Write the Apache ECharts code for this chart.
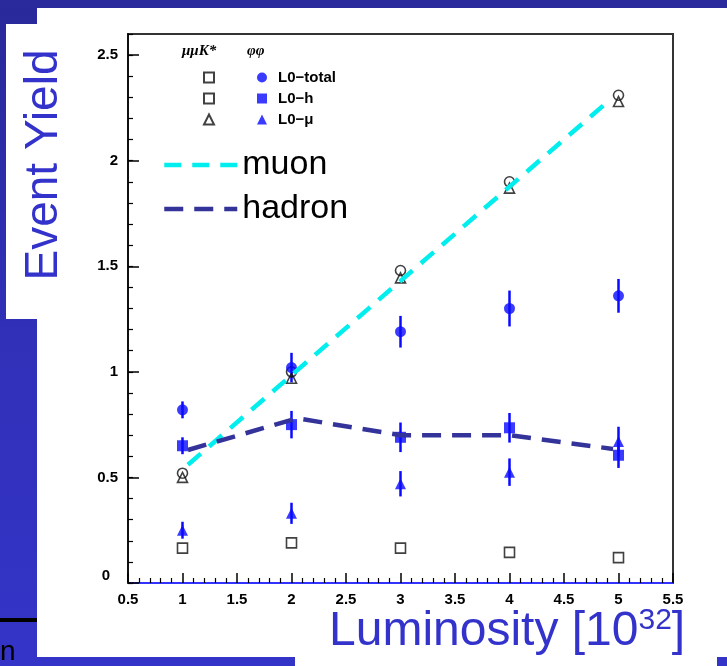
<!DOCTYPE html>
<html><head><meta charset="utf-8">
<script src="https://cdn.jsdelivr.net/npm/echarts@6/dist/echarts.min.js"></script>
<style>html,body{margin:0;padding:0;background:#fff}#c{width:727px;height:666px}</style>
</head><body><div id="c"></div>
<script>
// Luminosity values (x)
const lumi = [1, 2, 3, 4, 5];
// phi-phi (filled blue markers) with errors
const phiTotal = [0.82, 1.02, 1.19, 1.30, 1.36];
const phiTotalErr = [0.04, 0.07, 0.075, 0.085, 0.08];
const phiH = [0.65, 0.75, 0.69, 0.735, 0.605];
const phiHErr = [0.04, 0.065, 0.07, 0.07, 0.06];
const phiMu = [0.25, 0.33, 0.47, 0.525, 0.67];
const phiMuErr = [0.04, 0.05, 0.06, 0.065, 0.07];
// mu-mu-K* (open markers)
const mumuTotal = [0.52, 1.00, 1.48, 1.90, 2.31];
const mumuH = [0.165, 0.19, 0.165, 0.145, 0.12];
const mumuMu = [0.50, 0.97, 1.445, 1.87, 2.28];
// hand drawn guide lines
const muonX = [1.05, 4.88];
const muonY = [0.56, 2.27];
const hadronX = [1.05, 2.05, 3.0, 4.0, 4.95];
const hadronY = [0.63, 0.78, 0.70, 0.70, 0.635];
// tick settings
const yTicks = [0, 0.5, 1, 1.5, 2, 2.5];

const BLUE = '#0a0aff';
const pairs = (xs, ys) => xs.map((x, i) => [x, ys[i]]);

function errSeries(vals, errs) {
  return {
    type: 'custom', z: 3, silent: true,
    data: lumi.map((x, i) => [x, vals[i] - errs[i], vals[i] + errs[i]]),
    encode: { x: 0, y: [1, 2] },
    renderItem: (params, api) => {
      const a = api.coord([api.value(0), api.value(1)]);
      const b = api.coord([api.value(0), api.value(2)]);
      return { type: 'line', shape: { x1: a[0], y1: a[1], x2: b[0], y2: b[1] },
        style: { stroke: BLUE, lineWidth: 2.5 } };
    }
  };
}
const openStyle = { color: 'rgba(0,0,0,0)', borderColor: '#111', borderWidth: 1.6 };
const lblFont = { color: '#000', fontWeight: 'bold', fontSize: 15, fontFamily: 'Liberation Sans, Arial, sans-serif' };
const hidden = { color: 'rgba(0,0,0,0)', borderColor: 'rgba(0,0,0,0)', borderWidth: 0, opacity: 0 };

const chart = echarts.init(document.getElementById('c'), null, { renderer: 'canvas' });
chart.setOption({
  animation: false,
  backgroundColor: '#3232c2',
  graphic: [
    { type: 'rect', z: -100, shape: { x: 0, y: 0, width: 727, height: 666 },
      style: { fill: new echarts.graphic.LinearGradient(0, 0, 0, 1, [{ offset: 0, color: '#29299a' }, { offset: 0.5, color: '#3030b8' }, { offset: 1, color: '#3434c8' }]) } },
    { type: 'rect', z: -99, shape: { x: 0, y: 0, width: 727, height: 8 }, style: { fill: '#2a2a9c' } },
    { type: 'rect', z: -98, shape: { x: 37, y: 8, width: 690, height: 649 }, style: { fill: '#ffffff' } },
    { type: 'rect', z: -98, shape: { x: 6, y: 24, width: 40, height: 295 }, style: { fill: '#ffffff' } },
    { type: 'rect', z: -98, shape: { x: 295, y: 640, width: 422, height: 26 }, style: { fill: '#ffffff' } },
    { type: 'rect', z: -97, shape: { x: 0, y: 618, width: 37, height: 4 }, style: { fill: '#000' } },
    { type: 'text', z: 50, left: 0, top: 638, style: { text: 'n', fontSize: 28, fill: '#000', fontFamily: 'Liberation Sans, Arial, sans-serif' } },
    { type: 'text', z: 50, x: 44, y: 165, rotation: Math.PI / 2,
      style: { text: 'Event Yield', fontSize: 46, fill: '#3333cc', align: 'center', verticalAlign: 'middle', fontFamily: 'Liberation Sans, Arial, sans-serif' } },
    { type: 'text', z: 50, x: 329, y: 632,
      style: { text: '{a|Luminosity [10}{s|32}{a|]}', verticalAlign: 'middle',
        rich: { a: { fontSize: 48, fill: '#3333cc', color: '#3333cc', fontFamily: 'Liberation Sans, Arial, sans-serif', lineHeight: 52 },
                s: { fontSize: 30, fill: '#3333cc', color: '#3333cc', fontFamily: 'Liberation Sans, Arial, sans-serif', verticalAlign: 'top', lineHeight: 52 } } } },
    { type: 'text', z: 50, x: 182, y: 44,
      style: { text: 'μμK*', fontSize: 15, fontWeight: 'bold', fontStyle: 'italic', fill: '#000', fontFamily: 'Liberation Serif, serif' } },
    { type: 'text', z: 50, x: 247, y: 44,
      style: { text: 'φφ', fontSize: 15, fontWeight: 'bold', fontStyle: 'italic', fill: '#000', fontFamily: 'Liberation Serif, serif' } }
  ],
  grid: { left: 128, right: 54, top: 34, bottom: 83, show: true, borderColor: '#333', borderWidth: 2, backgroundColor: 'rgba(0,0,0,0)' },
  xAxis: [{
    type: 'value', min: 0.5, max: 5.5, interval: 0.5,
    axisLine: { show: true, onZero: false, lineStyle: { color: '#3333ff', width: 2 } },
    axisTick: { show: true, inside: true, length: 10, lineStyle: { color: '#000', width: 1.5 } },
    minorTick: { show: true, splitNumber: 5, length: 5, lineStyle: { color: '#000', width: 1.2 } },
    splitLine: { show: false },
    axisLabel: Object.assign({ margin: 9 }, lblFont)
  }],
  yAxis: [{
    type: 'value', min: 0, max: 2.6, interval: 0.5,
    axisLine: { show: true, onZero: false, lineStyle: { color: '#111', width: 2 } },
    axisTick: { show: true, inside: true, length: 11, lineStyle: { color: '#000', width: 1.5 } },
    splitLine: { show: false },
    axisLabel: Object.assign({ margin: 10, showMaxLabel: false,
      formatter: v => (v === 0 ? '{z|0}' : (yTicks.indexOf(v) >= 0 ? String(v) : '')),
      rich: { z: { fontWeight: 'bold', fontSize: 15, color: '#000', padding: [0, 8, 14, 0] } } }, lblFont)
  }, {
    type: 'value', min: 0, max: 2.6, interval: 0.1, position: 'left',
    axisLine: { show: false }, axisLabel: { show: false }, splitLine: { show: false },
    axisTick: { show: true, inside: true, length: 5, lineStyle: { color: '#000', width: 1.2 } }
  }],
  legend: [{
    orient: 'vertical', left: 198, top: 62, itemWidth: 10, itemHeight: 10, itemGap: 0,
    selectedMode: false, formatter: () => ' ',
    textStyle: { fontSize: 15, lineHeight: 21 },
    data: [
      { name: 'μμK* L0-total', icon: 'rect' },
      { name: 'μμK* L0-h', icon: 'rect' },
      { name: 'μμK* L0-μ', icon: 'triangle' }
    ]
  }, {
    orient: 'vertical', left: 252, top: 62, itemWidth: 10, itemHeight: 10, itemGap: 0,
    selectedMode: false,
    textStyle: { fontSize: 15, lineHeight: 21, fontWeight: 'bold', color: '#000', padding: [0, 0, 0, 6], fontFamily: 'Liberation Sans, Arial, sans-serif' },
    data: [
      { name: 'L0−total', icon: 'circle' },
      { name: 'L0−h', icon: 'rect' },
      { name: 'L0−μ', icon: 'triangle' }
    ]
  }, {
    orient: 'vertical', left: 157, top: 143, itemWidth: 73, itemHeight: 14, itemGap: 10,
    selectedMode: false,
    lineStyle: { width: 4.5 },
    itemStyle: hidden,
    textStyle: { fontSize: 34, color: '#000', fontFamily: 'Liberation Sans, Arial, sans-serif' },
    data: [{ name: 'muon', itemStyle: hidden }, { name: 'hadron', itemStyle: hidden }]
  }],
  series: [
    errSeries(phiTotal, phiTotalErr),
    errSeries(phiH, phiHErr),
    errSeries(phiMu, phiMuErr),
    { name: 'μμK* L0-total', type: 'scatter', z: 4, symbol: 'circle', symbolSize: 10, itemStyle: openStyle, data: pairs(lumi, mumuTotal) },
    { name: 'μμK* L0-h', type: 'scatter', z: 4, symbol: 'rect', symbolSize: 10, itemStyle: openStyle, data: pairs(lumi, mumuH) },
    { name: 'μμK* L0-μ', type: 'scatter', z: 4, symbol: 'triangle', symbolSize: 10, itemStyle: openStyle, data: pairs(lumi, mumuMu) },
    { name: 'L0−total', type: 'scatter', z: 5, symbol: 'circle', symbolSize: 11, itemStyle: { color: BLUE }, data: pairs(lumi, phiTotal) },
    { name: 'L0−h', type: 'scatter', z: 5, symbol: 'rect', symbolSize: 11, itemStyle: { color: BLUE }, data: pairs(lumi, phiH) },
    { name: 'L0−μ', type: 'scatter', z: 5, symbol: 'triangle', symbolSize: 11, itemStyle: { color: BLUE }, data: pairs(lumi, phiMu) },
    { name: 'muon', type: 'line', z: 6, symbol: 'none', silent: true, color: '#00eeee',
      lineStyle: { color: '#00eeee', width: 4.5, type: [17, 11] }, data: pairs(muonX, muonY) },
    { name: 'hadron', type: 'line', z: 6, symbol: 'none', silent: true, color: '#333399',
      lineStyle: { color: '#333399', width: 4.5, type: [19, 11] }, data: pairs(hadronX, hadronY) }
  ]
});
</script>
</body></html>
